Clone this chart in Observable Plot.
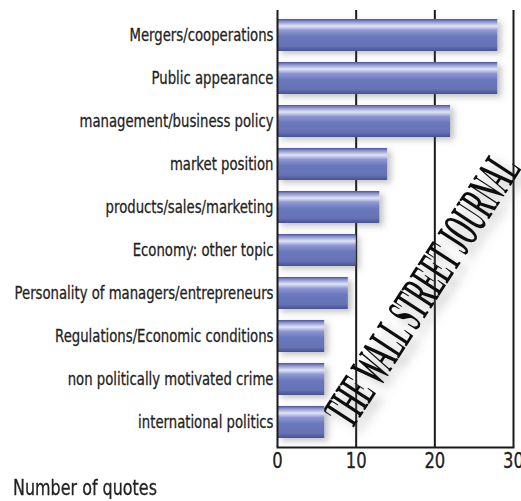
<!DOCTYPE html>
<html><head><meta charset="utf-8">
<script src="https://cdn.jsdelivr.net/npm/d3@7"></script>
<script src="https://cdn.jsdelivr.net/npm/@observablehq/plot@0.6"></script>
<style>
body{margin:0;background:#fff;font-family:"DejaVu Sans",sans-serif}
#cap{display:inline-block;white-space:nowrap;font-size:20.5px;line-height:22px;color:#222;margin:3px 0 0 13px;transform-origin:0 0;-webkit-text-stroke:0.3px #222}
svg g[aria-label$="tick label"] text{stroke:#222;stroke-width:0.3px}
</style></head><body><div id="chart"></div><div id="cap">Number of quotes</div>
<script>
const categories = [
  "Mergers/cooperations",
  "Public appearance",
  "management/business policy",
  "market position",
  "products/sales/marketing",
  "Economy: other topic",
  "Personality of managers/entrepreneurs",
  "Regulations/Economic conditions",
  "non politically motivated crime",
  "international politics"
];
const quotes = [28, 28, 22, 14, 13, 10, 9, 6, 6, 6];
const xTicks = [0, 10, 20, 30];
const watermark = ["THE WALL STREET JOURNAL"];
const data = categories.map((c, i) => ({topic: c, quotes: quotes[i]}));
const font = '"DejaVu Sans",sans-serif';

const plot = Plot.plot({
  width: 521, height: 474,
  marginTop: 10, marginBottom: 27, marginLeft: 277, marginRight: 8,
  style: {fontFamily: font, fontSize: "17.5px", color: "#222", background: "#fff"},
  x: {domain: [0, 30], ticks: xTicks, label: null},
  y: {domain: categories, paddingInner: 0.26, paddingOuter: 0.13, label: null},
  marks: [
    Plot.ruleX(xTicks.slice(1), {stroke: "#1a1a1a", strokeWidth: 2}),
    Plot.text(watermark, {frameAnchor: "middle", dx: 27, dy: 61, rotate: -57, fontSize: 54, fontFamily: '"Liberation Serif","DejaVu Serif",serif', fontWeight: "bold", fill: "#111", className: "wsj"}),
    Plot.barX(data, {x: "quotes", y: "topic", fill: "url(#barGrad)", className: "bars"}),
    Plot.ruleX([0], {stroke: "#1a1a1a", strokeWidth: 2}),
    Plot.frame({anchor: "bottom", stroke: "#1a1a1a", strokeWidth: 2}),
    Plot.axisY({tickSize: 0, tickPadding: 4, fontSize: 17.5}),
    Plot.axisX({ticks: xTicks, tickSize: 0, tickPadding: 6, fontSize: 20.5, label: null})
  ]
});

d3.select(plot).insert("defs", ":first-child").html(`
  <linearGradient id="barGrad" x1="0" y1="0" x2="0" y2="1">
    <stop offset="0" stop-color="#4b5595"/>
    <stop offset="0.08" stop-color="#8891cb"/>
    <stop offset="0.22" stop-color="#e2e5f6"/>
    <stop offset="0.36" stop-color="#8c97d2"/>
    <stop offset="0.55" stop-color="#6b78bc"/>
    <stop offset="0.85" stop-color="#6572b5"/>
    <stop offset="1" stop-color="#485190"/>
  </linearGradient>
  <filter id="barShadow" x="-10%" y="-30%" width="130%" height="180%">
    <feDropShadow dx="4" dy="3" stdDeviation="3" flood-color="#555" flood-opacity="0.35"/>
  </filter>
  <filter id="wsjShadow" x="-30%" y="-30%" width="160%" height="160%">
    <feDropShadow dx="7" dy="5" stdDeviation="5" flood-color="#777" flood-opacity="0.45"/>
  </filter>
`);
d3.select(plot).selectAll("g.bars").attr("filter", "url(#barShadow)");
d3.select(plot).selectAll("g.wsj").attr("filter", "url(#wsjShadow)")
  .selectAll("text").attr("textLength", 312).attr("lengthAdjust", "spacingAndGlyphs");

document.getElementById("chart").append(plot);

// condense axis text to match the narrow typeface of the original
function condense(sel, k) {
  sel.each(function () {
    const w = this.getComputedTextLength();
    d3.select(this).attr("textLength", w * k).attr("lengthAdjust", "spacingAndGlyphs");
  });
}
const ylab = d3.select(plot).selectAll('g[aria-label="y-axis tick label"] text');
let maxW = 0;
ylab.each(function () { maxW = Math.max(maxW, this.getComputedTextLength()); });
condense(ylab, 259 / maxW);
condense(d3.select(plot).selectAll('g[aria-label="x-axis tick label"] text'), 0.8);
const cap = document.getElementById("cap");
cap.style.transform = `scaleX(${144 / cap.getBoundingClientRect().width})`;
</script>
</body></html>
